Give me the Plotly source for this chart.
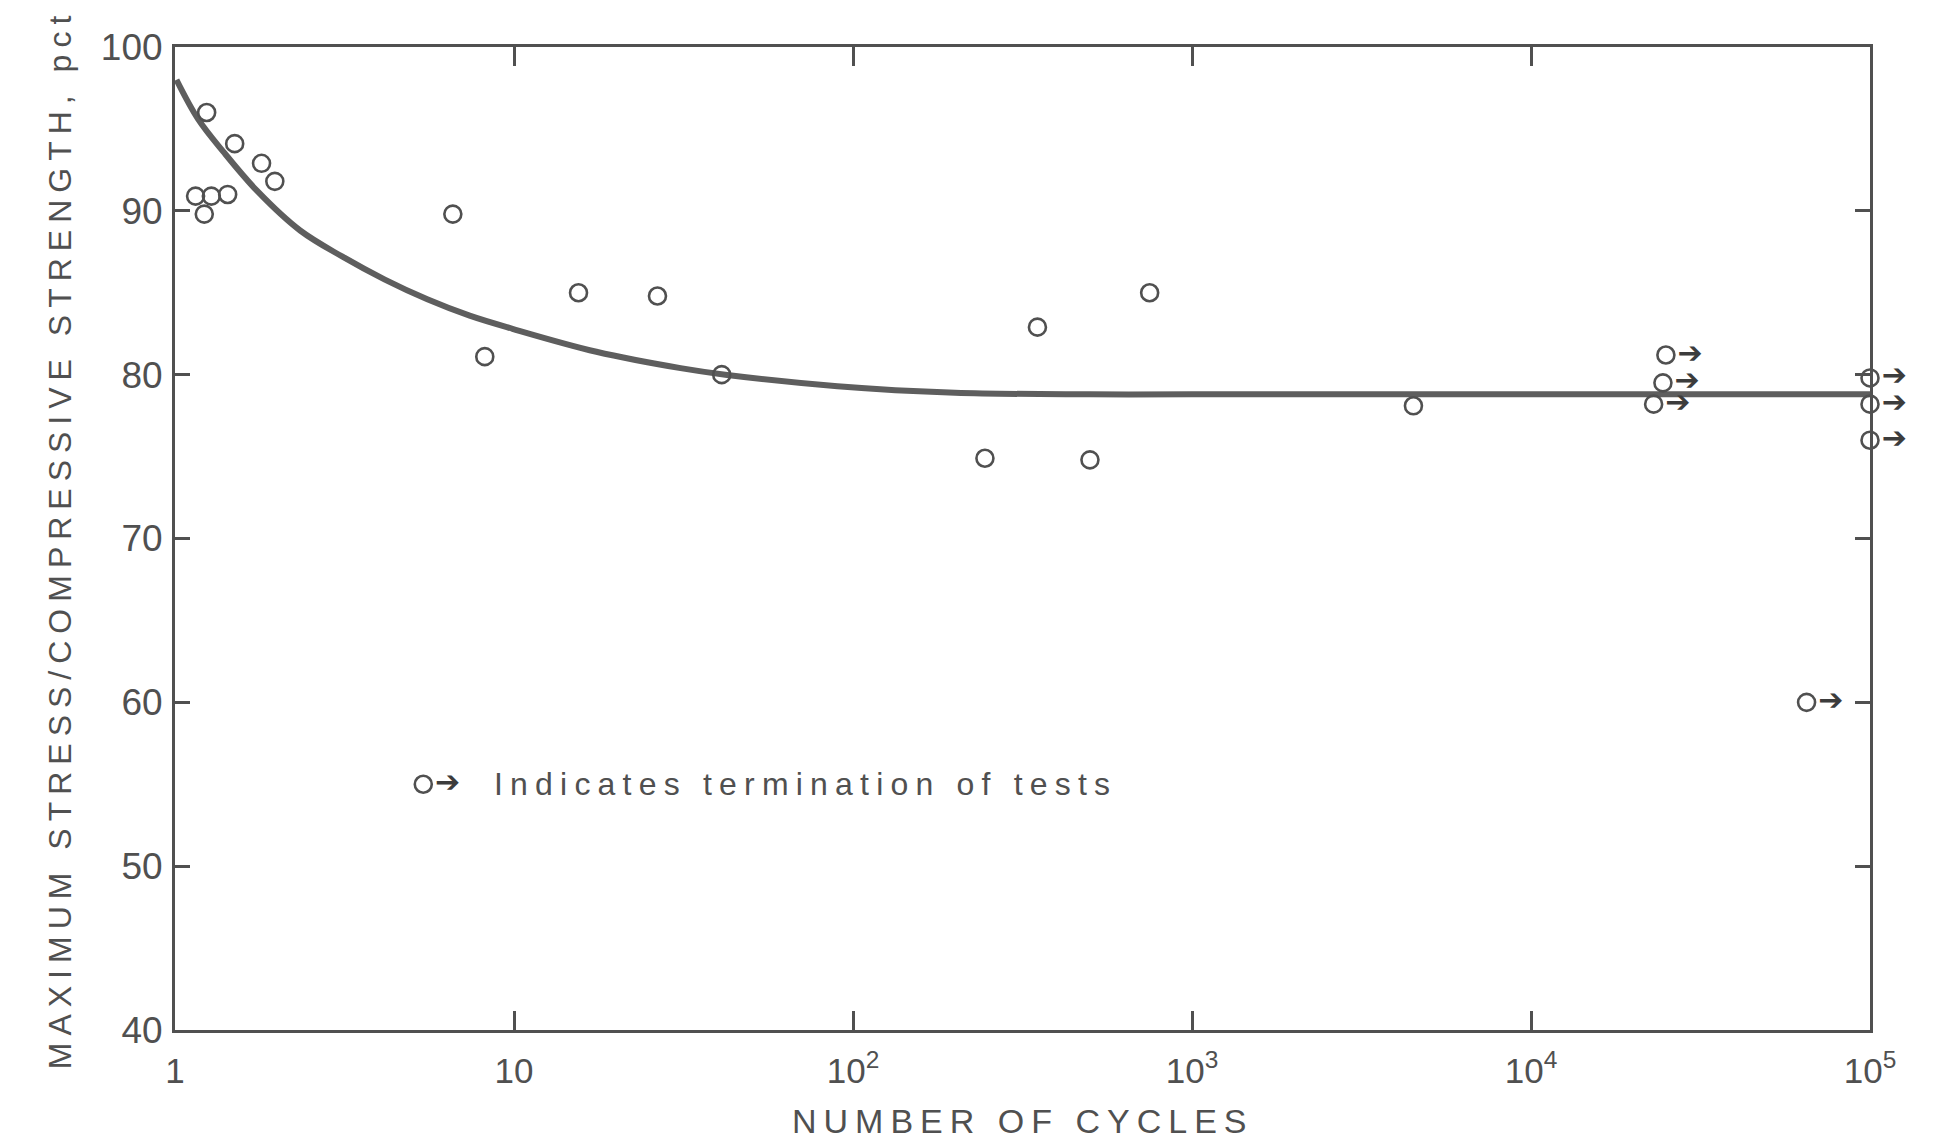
import math
import plotly.graph_objects as go

# ---- data ----
open_x = [1.24, 1.5, 1.8, 1.97, 1.15, 1.28, 1.43, 1.22, 6.6, 8.2, 15.5, 26.5, 41, 245, 350, 500, 750, 4500]
open_y = [96.0, 94.1, 92.9, 91.8, 90.9, 90.9, 91.0, 89.8, 89.8, 81.1, 85.0, 84.8, 80.0, 74.9, 82.9, 74.8, 85.0, 78.1]

term_x = [25000, 24500, 23000, 100000, 100000, 100000, 65000]
term_y = [81.2, 79.5, 78.2, 79.8, 78.2, 76.0, 60.0]

curve_x = [1.01, 1.17, 1.39, 1.75, 2.34, 3.12, 4.16, 5.55, 7.4, 9.9, 17.5, 31, 42, 90, 200, 500, 1000, 10000, 100000]
curve_y = [98.0, 95.6, 93.6, 91.2, 88.8, 87.2, 85.8, 84.6, 83.6, 82.8, 81.4, 80.4, 80.0, 79.3, 78.9, 78.8, 78.8, 78.8, 78.8]

legend_x = [5.4]
legend_y = [55.0]
legend_text = "Indicates termination of tests"

x_tickvals = [1, 10, 100, 1000, 10000, 100000]
x_ticktext = ["1", "10", "10<sup>2</sup>", "10<sup>3</sup>", "10<sup>4</sup>", "10<sup>5</sup>"]
y_tickvals = [40, 50, 60, 70, 80, 90, 100]
y_ticktext = ["40", "50", "60", "70", "80", "90", "100"]

x_title = "NUMBER OF CYCLES"
y_title = "MAXIMUM STRESS/COMPRESSIVE STRENGTH, pct"
ARROW = "➔"

INK = "#505050"
DARK = "#3c3c3c"
FONT = "Liberation Sans, DejaVu Sans, sans-serif"

fig = go.Figure()

fig.add_trace(go.Scatter(
    x=curve_x, y=curve_y, mode="lines",
    line=dict(color="#5e5e5e", width=6, shape="spline", smoothing=1.0),
    hoverinfo="skip", showlegend=False))

marker_style = dict(symbol="circle-open", size=17, color=INK, line=dict(width=2.6, color=INK))

fig.add_trace(go.Scatter(x=open_x, y=open_y, mode="markers", marker=marker_style,
                         showlegend=False, cliponaxis=False))

# terminated tests: circle with a small arrow to its right
arrow_font = dict(family="DejaVu Sans, sans-serif", size=30, color=DARK, weight="bold")
fig.add_trace(go.Scatter(x=term_x, y=term_y, mode="markers+text", marker=marker_style,
                         text=[ARROW] * len(term_x), textposition="middle right",
                         textfont=arrow_font, showlegend=False, cliponaxis=False))
fig.add_trace(go.Scatter(x=legend_x, y=legend_y, mode="markers+text", marker=marker_style,
                         text=[ARROW] * len(legend_x), textposition="middle right",
                         textfont=arrow_font, showlegend=False, cliponaxis=False))

annotations = []
annotations.append(dict(
    x=math.log10(8.6), y=legend_y[0], xref="x", yref="y", xanchor="left", yanchor="middle",
    text='<span style="letter-spacing:7.2px">' + legend_text + '</span>',
    showarrow=False, font=dict(family=FONT, size=32, color=INK)))

annotations.append(dict(
    x=-0.068, y=0.5, xref="paper", yref="paper", xanchor="center", yanchor="middle",
    textangle=-90, text='<span style="letter-spacing:7px">' + y_title + '</span>',
    showarrow=False, font=dict(family=FONT, size=32, color=INK)))

annotations.append(dict(
    x=0.5, y=-0.093, xref="paper", yref="paper", xanchor="center", yanchor="middle",
    text='<span style="letter-spacing:7px">' + x_title + '</span>',
    showarrow=False, font=dict(family=FONT, size=34, color=INK)))

fig.update_layout(
    width=1942, height=1144,
    margin=dict(l=175, r=72, t=47, b=114),
    paper_bgcolor="white", plot_bgcolor="white",
    annotations=annotations,
    font=dict(family=FONT, color=INK),
)

fig.update_xaxes(
    type="log", range=[0, 5], tickvals=x_tickvals, ticktext=x_ticktext,
    showline=True, linecolor=INK, linewidth=3, mirror="ticks",
    ticks="inside", ticklen=19, tickwidth=2.5, tickcolor=INK,
    showgrid=False, zeroline=False, ticklabelstandoff=8,
    tickfont=dict(family=FONT, size=35, color=INK))

fig.update_yaxes(
    range=[40, 100], tickvals=y_tickvals, ticktext=y_ticktext,
    showline=True, linecolor=INK, linewidth=3, mirror="ticks",
    ticks="inside", ticklen=15, tickwidth=2.5, tickcolor=INK,
    showgrid=False, zeroline=False, ticklabelstandoff=2,
    tickfont=dict(family=FONT, size=37, color=INK))

fig.write_html("out.html")
